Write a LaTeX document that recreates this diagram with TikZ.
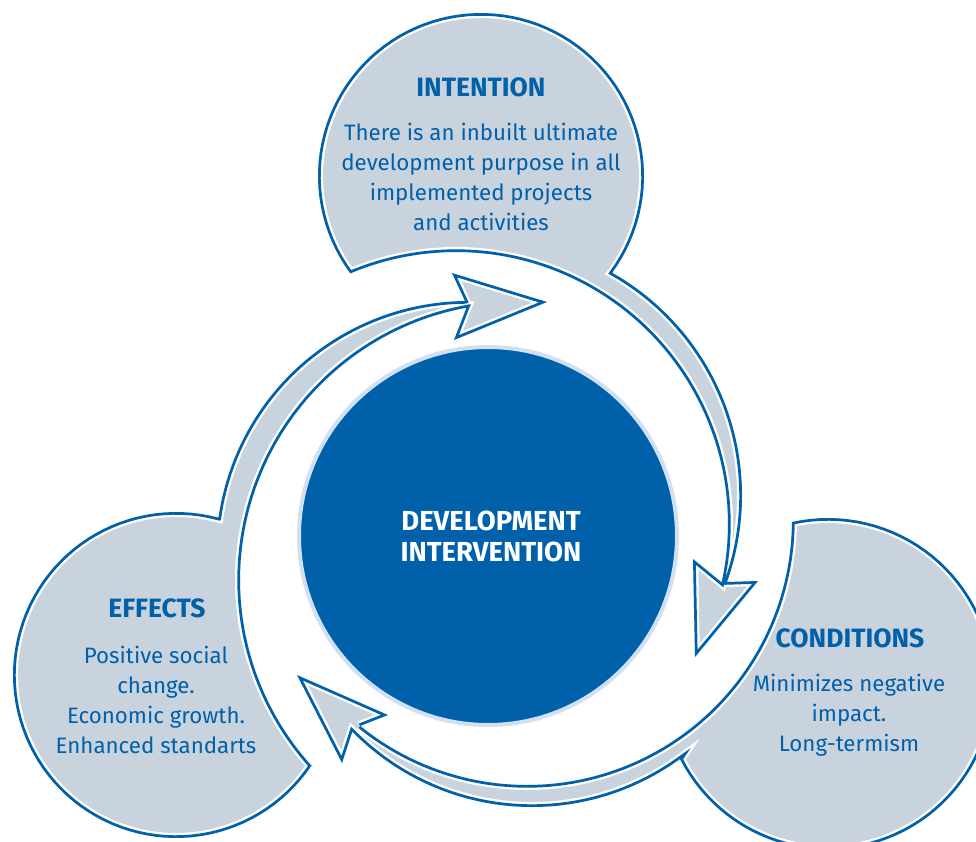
\documentclass[tikz,border=0pt]{standalone}
\usepackage{fontspec}
\setmainfont{Fira Sans}
\usetikzlibrary{positioning}
\definecolor{deep} {RGB}{  0, 96,170}
\definecolor{panel}{RGB}{200,211,222}
\definecolor{halo} {RGB}{208,225,244}
\newcommand\drawblob[1]{%
  \fill[panel] #1;
  \begin{scope}
    \clip #1;
    \draw[white,line width=10pt] #1;
    \draw[deep,line width=5.4pt] #1;
  \end{scope}}

\begin{document}
\begin{tikzpicture}[
  x=1pt, y=-1pt,
  heading/.style={text=deep,font={\fontsize{26.5}{30}\selectfont\bfseries},inner sep=0pt},
  blurb/.style={text=deep,font={\fontsize{22.3}{30}\selectfont},align=center,inner sep=0pt},
  core/.style={text=white,font={\fontsize{27.5}{31}\selectfont\bfseries},align=center,inner sep=0pt},
  samples=80, variable=\t,
]
  \useasboundingbox (0,0) rectangle (976,841);

  % Intention blob, tail runs down the right side
  \drawblob{(613,273)
    -- plot[domain=-36.3:216.2] ({481+163*cos(\t)},{176-163*sin(\t)})
    -- plot[domain=112.8:-12.4] ({456+272*cos(\t)},{524-272*sin(\t)})
    -- (693,559) -- (695,657) -- (758,581) -- (727,582)
    -- plot[domain=-19.7:60.3] ({486+256*cos(\t)},{495.5-256*sin(\t)})
    -- cycle}

  % Effects blob, tail runs up the left side
  \drawblob{(218,517)
    -- plot[domain=75.1:326.5] ({176+163*cos(\t)},{675-163*sin(\t)})
    -- plot[domain=222.1:100.5] ({517+277*cos(\t)},{580-277*sin(\t)})
    -- (454,340) -- (547,302) -- (452,273) -- (465,301)
    -- plot[domain=90.7:171.8] ({468+252*cos(\t)},{553-252*sin(\t)})
    -- cycle}

  % Conditions blob, tail runs along the bottom
  \drawblob{(792,523)
    -- plot[domain=102.6:-153.1] ({828+166*cos(\t)},{684-166*sin(\t)})
    -- plot[domain=-54:-135.5] ({532+252*cos(\t)},{555-252*sin(\t)})
    -- (342,763) -- (297,675) -- (388,715) -- (360,726)
    -- plot[domain=-129:-0.6] ({527+265*cos(\t)},{520-265*sin(\t)})
    -- cycle}

  % Centre
  \node[circle,fill=deep,draw=halo,line width=4pt,minimum size=378pt] (centre) at (488,536) {};
  \node[core] (centretext) at (491,536) {DEVELOPMENT\\INTERVENTION};

  % Labels
  \node[heading] (intentiontitle) at (481,87) {INTENTION};
  \node[blurb] (intentiontext) at (481,177) {There is an inbuilt ultimate\\development purpose in all\\implemented projects\\and activities};

  \node[heading] (effectstitle) at (157,608) {EFFECTS};
  \node[blurb] (effectstext) at (156,700) {Positive social\\change.\\Economic growth.\\Enhanced standarts};

  \node[heading] (conditionstitle) at (850,638) {CONDITIONS};
  \node[blurb] (conditionstext) at (849,715) {Minimizes negative\\impact.\\Long-termism};

\end{tikzpicture}
\end{document}
